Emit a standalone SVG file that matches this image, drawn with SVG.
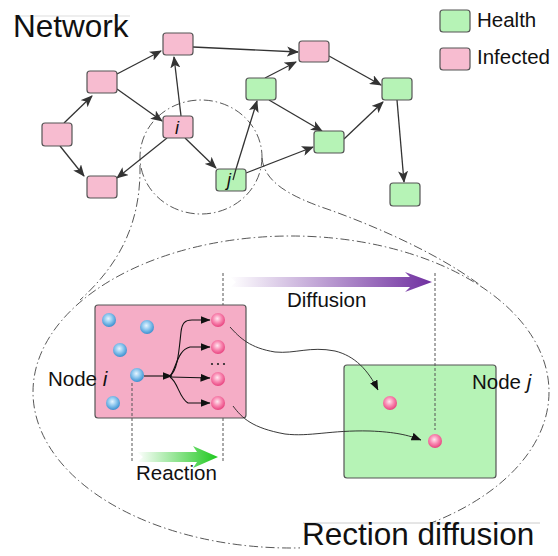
<svg xmlns="http://www.w3.org/2000/svg" width="558" height="556" viewBox="0 0 558 556">
<style>
.nd{stroke:#555;stroke-width:1.2}
.pk{fill:#f7bcd0}
.pkb{fill:#f5adc6}
.gr{fill:#b6f3b6}
.edge{fill:none;stroke:#333;stroke-width:1.3;marker-end:url(#stealth)}
.dd{fill:none;stroke:#444;stroke-width:0.9;stroke-dasharray:9,3,1.5,3}
.vd{fill:none;stroke:#555;stroke-width:1;stroke-dasharray:3,2}
.blk{fill:none;stroke:#111;stroke-width:1.1;marker-end:url(#tri)}
.crv{fill:none;stroke:#222;stroke-width:0.9;marker-end:url(#tri)}
text{font-family:"Liberation Sans",Arial,sans-serif;fill:#111}
.it{font-style:italic}
</style>
<defs>
<radialGradient id="blueBall" cx="45%" cy="40%" r="60%">
<stop offset="0" stop-color="#e6f5ff"/><stop offset="0.5" stop-color="#8cc6ee"/><stop offset="1" stop-color="#3b8fcf"/>
</radialGradient>
<radialGradient id="pinkBall" cx="45%" cy="40%" r="60%">
<stop offset="0" stop-color="#ffe6ef"/><stop offset="0.5" stop-color="#f98bb3"/><stop offset="1" stop-color="#e8437f"/>
</radialGradient>
<linearGradient id="purpleG" x1="0" y1="0" x2="1" y2="0">
<stop offset="0" stop-color="#ffffff"/><stop offset="1" stop-color="#7030a0"/>
</linearGradient>
<linearGradient id="greenG" x1="0" y1="0" x2="1" y2="0">
<stop offset="0" stop-color="#ffffff"/><stop offset="1" stop-color="#1ec81e"/>
</linearGradient>
<marker id="stealth" viewBox="0 0 12 10" refX="11" refY="5" markerWidth="12" markerHeight="10" markerUnits="userSpaceOnUse" orient="auto">
<path d="M0,0 L12,5 L0,10 L3,5 Z" fill="#333"/>
</marker>
<marker id="tri" viewBox="0 0 10 8" refX="9.5" refY="4" markerWidth="10" markerHeight="8" markerUnits="userSpaceOnUse" orient="auto">
<path d="M0,0 L10,4 L0,8 Z" fill="#111"/>
</marker>
</defs>

<!-- magnifier outline -->
<g id="magnifier">
<ellipse class="dd" cx="201" cy="157" rx="61" ry="57"/>
<ellipse class="dd" cx="291" cy="392" rx="258" ry="156"/>
<path class="dd" d="M140,165 C141,220 122,262 80,300"/>
<path class="dd" d="M262,158 C264,180 285,195 330,210 C380,228 440,255 480,285"/>
</g>

<!-- titles -->
<g id="title-network">
<line x1="14" y1="16" x2="130" y2="16" stroke="#ddd" stroke-width="1"/>
<text x="13" y="37" font-size="31.5">Network</text>
</g>
<g id="title-rd">
<rect x="300" y="523" width="245" height="33" fill="#fff"/>
<line x1="303" y1="523" x2="540" y2="523" stroke="#ccc" stroke-width="1"/>
<text x="302" y="545" font-size="31.5">Rection diffusion</text>
</g>

<!-- legend -->
<g id="legend-health">
<rect class="nd gr" x="440" y="10" width="30" height="22" rx="3"/>
<text x="477" y="27" font-size="20.5">Health</text>
</g>
<g id="legend-infected">
<rect class="nd pk" x="440" y="48" width="30" height="22" rx="3"/>
<text x="477" y="64" font-size="20.5">Infected</text>
</g>

<!-- network connectors -->
<g id="connectors">
<line class="edge" x1="64" y1="123" x2="92" y2="96"/>
<line class="edge" x1="60" y1="146" x2="84" y2="176"/>
<line class="edge" x1="117" y1="74" x2="161" y2="51"/>
<line class="edge" x1="117" y1="89" x2="162" y2="121"/>
<line class="edge" x1="181" y1="116" x2="174" y2="57"/>
<line class="edge" x1="167" y1="138" x2="117" y2="178"/>
<line class="edge" x1="185" y1="138" x2="216" y2="168"/>
<line class="edge" x1="236" y1="169" x2="257" y2="101"/>
<line class="edge" x1="246" y1="173" x2="313" y2="147"/>
<line class="edge" x1="265" y1="78" x2="296" y2="62"/>
<line class="edge" x1="193" y1="47" x2="298" y2="52"/>
<line class="edge" x1="269" y1="100" x2="322" y2="131"/>
<line class="edge" x1="329" y1="56" x2="381" y2="85"/>
<line class="edge" x1="344" y1="139" x2="383" y2="102"/>
<line class="edge" x1="397" y1="100" x2="404" y2="182"/>
</g>

<!-- network nodes -->
<g id="nA"><rect class="nd pk" x="42" y="123" width="30" height="23" rx="3"/></g>
<g id="nB"><rect class="nd pk" x="87" y="71" width="30" height="22" rx="3"/></g>
<g id="nC"><rect class="nd pk" x="163" y="33" width="30" height="22" rx="3"/></g>
<g id="ni"><rect class="nd pk" x="163" y="116" width="30" height="22" rx="3"/>
<text class="it" x="175" y="134" font-size="18">i</text></g>
<g id="nD"><rect class="nd pk" x="87" y="176" width="30" height="22" rx="3"/></g>
<g id="nj"><rect class="nd gr" x="216" y="169" width="30" height="22" rx="3"/>
<text class="it" x="227" y="186" font-size="18">j</text>
<line x1="236" y1="169" x2="233" y2="180" stroke="#333" stroke-width="1.3"/></g>
<g id="nP"><rect class="nd pk" x="299" y="41" width="30" height="21" rx="3"/></g>
<g id="nE"><rect class="nd gr" x="246" y="78" width="30" height="22" rx="3"/></g>
<g id="nF"><rect class="nd gr" x="382" y="78" width="30" height="22" rx="3"/></g>
<g id="nG"><rect class="nd gr" x="314" y="131" width="30" height="22" rx="3"/></g>
<g id="nH"><rect class="nd gr" x="390" y="183" width="30" height="23" rx="3"/></g>

<!-- reaction diffusion detail -->
<g id="guides-back">
<line class="vd" x1="223" y1="273" x2="223" y2="463"/>
</g>

<g id="arrow-diffusion">
<path d="M230,277 L410,277 L405,272 L432,282 L405,292 L410,287 L230,287 L236,282 Z" fill="url(#purpleG)"/>
<text x="287" y="307" font-size="20.5">Diffusion</text>
</g>
<g id="arrow-reaction">
<path d="M137,452 L197,452 L193,446 L218,457 L193,468 L197,462 L137,462 L143,457 Z" fill="url(#greenG)"/>
<text x="136" y="480" font-size="20.5">Reaction</text>
</g>

<g id="node-i-detail">
<rect class="nd pkb" x="95" y="305" width="151" height="113" rx="3"/>
<circle cx="109" cy="320" r="7" fill="url(#blueBall)"/>
<circle cx="147" cy="327" r="7" fill="url(#blueBall)"/>
<circle cx="120" cy="350" r="7" fill="url(#blueBall)"/>
<circle cx="137" cy="375" r="7" fill="url(#blueBall)"/>
<circle cx="113" cy="403" r="7" fill="url(#blueBall)"/>
<circle cx="218" cy="320" r="7" fill="url(#pinkBall)"/>
<circle cx="218" cy="347" r="7" fill="url(#pinkBall)"/>
<circle cx="218" cy="379" r="7" fill="url(#pinkBall)"/>
<circle cx="218" cy="403" r="7" fill="url(#pinkBall)"/>
<circle cx="212" cy="364" r="1.1" fill="#222"/>
<circle cx="218" cy="364" r="1.1" fill="#222"/>
<circle cx="224" cy="364" r="1.1" fill="#222"/>
<line class="blk" x1="144" y1="376" x2="172" y2="376"/>
<path class="blk" d="M170,376 C178,370 179,350 181,332 C182,323 185,320 192,320 L210,320"/>
<path class="blk" d="M170,376 C176,370 177,350 190,347 L210,347"/>
<path class="blk" d="M170,377 L210,378"/>
<path class="blk" d="M170,377 C178,382 179,398 188,403 L210,403"/>
<text x="48" y="386" font-size="20.5">Node <tspan class="it">i</tspan></text>
</g>

<g id="node-j-detail">
<rect class="nd gr" x="344" y="365" width="152" height="113" rx="3"/>
<circle cx="390" cy="403" r="7" fill="url(#pinkBall)"/>
<circle cx="435" cy="441" r="7" fill="url(#pinkBall)"/>
<text x="472" y="389" font-size="20.5">Node <tspan class="it">j</tspan></text>
</g>

<g id="guides-front">
<line class="vd" x1="132" y1="383" x2="132" y2="463"/>
<line class="vd" x1="435" y1="273" x2="435" y2="430"/>
</g>

<g id="diffusion-paths">
<path class="crv" d="M230,327 C240,338 250,348 275,352 C295,354 310,346 335,351 C355,356 368,370 378,390"/>
<path class="crv" d="M233,406 C242,418 252,428 285,434 C310,437 330,430 370,431 C395,432 408,435 421,440"/>
</g>
</svg>
